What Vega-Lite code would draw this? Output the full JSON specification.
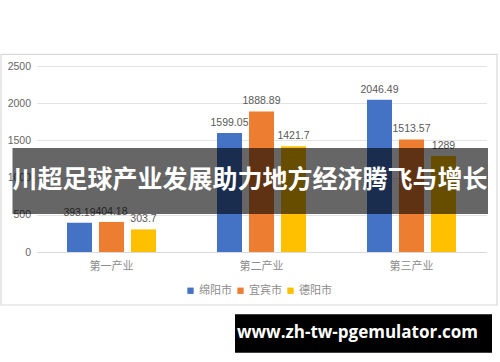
{
  "$schema": "https://vega.github.io/schema/vega-lite/v6.json",
  "autosize": "none",
  "width": 450,
  "height": 186,
  "padding": {"left": 36.5, "top": 66, "right": 13.5, "bottom": 110},
  "background": "white",
  "config": {
    "view": {"stroke": null},
    "font": "Liberation Sans",
    "axisX": {
      "title": null,
      "labelAngle": 0,
      "ticks": false,
      "domainColor": "#d9d9d9",
      "domainWidth": 1.2,
      "labelPadding": 8,
      "labelFont": "Noto Sans CJK SC",
      "labelFontSize": 11,
      "labelColor": "#8c8c8c"
    },
    "axisY": {
      "title": null,
      "format": "d",
      "labelOverlap": false,
      "domain": false,
      "ticks": false,
      "gridColor": "#e3e3e3",
      "gridWidth": 1,
      "labelPadding": 6,
      "labelFontSize": 10.5,
      "labelColor": "#666666"
    }
  },
  "datasets": {
    "gdp": [
      {"industry": "第一产业", "city": "绵阳市", "value": 393.19},
      {"industry": "第一产业", "city": "宜宾市", "value": 404.18},
      {"industry": "第一产业", "city": "德阳市", "value": 303.7},
      {"industry": "第二产业", "city": "绵阳市", "value": 1599.05},
      {"industry": "第二产业", "city": "宜宾市", "value": 1888.89},
      {"industry": "第二产业", "city": "德阳市", "value": 1421.7},
      {"industry": "第三产业", "city": "绵阳市", "value": 2046.49},
      {"industry": "第三产业", "city": "宜宾市", "value": 1513.57},
      {"industry": "第三产业", "city": "德阳市", "value": 1289}
    ]
  },
  "layer": [
    {
      "data": {"values": [{}]},
      "mark": {"type": "rect", "fill": null, "stroke": "#d9d9d9", "strokeWidth": 1.2},
      "encoding": {
        "x": {"value": -35.5},
        "x2": {"value": 460.5},
        "y": {"value": -11.7},
        "y2": {"value": 239}
      }
    },
    {
      "data": {"name": "gdp"},
      "mark": {"type": "bar"},
      "encoding": {
        "x": {
          "field": "industry",
          "type": "nominal",
          "sort": ["第一产业", "第二产业", "第三产业"],
          "scale": {"paddingInner": 0.36, "paddingOuter": 0.18},
          "axis": {"title": null}
        },
        "xOffset": {
          "field": "city",
          "type": "nominal",
          "sort": ["绵阳市", "宜宾市", "德阳市"],
          "scale": {"paddingInner": 0.21875, "paddingOuter": 0.109375}
        },
        "y": {
          "field": "value",
          "type": "quantitative",
          "scale": {"domain": [0, 2500], "nice": false},
          "axis": {"title": null, "values": [0, 500, 1000, 1500, 2000, 2500]}
        },
        "color": {
          "field": "city",
          "type": "nominal",
          "sort": ["绵阳市", "宜宾市", "德阳市"],
          "scale": {"domain": ["绵阳市", "宜宾市", "德阳市"], "range": ["#4472C4", "#ED7D31", "#FFC000"]},
          "legend": {
            "title": null,
            "orient": "none",
            "direction": "horizontal",
            "legendX": 148.5,
            "legendY": 219,
            "symbolType": "square",
            "symbolSize": 40,
            "symbolStrokeWidth": 0,
            "labelFont": "Noto Sans CJK SC",
            "labelFontSize": 11,
            "labelColor": "#8c8c8c",
            "labelOffset": 3,
            "columnPadding": 3
          }
        }
      }
    },
    {
      "data": {"name": "gdp"},
      "mark": {"type": "text", "baseline": "bottom", "dy": -5, "fontSize": 10.5, "color": "#595959"},
      "encoding": {
        "x": {"field": "industry", "type": "nominal", "sort": ["第一产业", "第二产业", "第三产业"], "axis": {"title": null}},
        "xOffset": {"field": "city", "type": "nominal", "sort": ["绵阳市", "宜宾市", "德阳市"]},
        "y": {"field": "value", "type": "quantitative", "axis": {"title": null, "values": [0, 500, 1000, 1500, 2000, 2500]}},
        "text": {"field": "value", "type": "quantitative", "format": ".6~"}
      }
    },
    {
      "data": {"values": [{"banner": "川超足球产业发展助力地方经济腾飞与增长"}]},
      "layer": [
        {
          "mark": {"type": "rect", "fill": "black", "opacity": 0.6},
          "encoding": {
            "x": {"value": -24},
            "x2": {"value": 451.5},
            "y": {"value": 82},
            "y2": {"value": 148}
          }
        },
        {
          "mark": {"type": "text", "font": "Noto Sans CJK SC", "fontWeight": "bold", "fontSize": 25, "color": "white", "align": "center", "baseline": "middle"},
          "encoding": {
            "x": {"value": 213.5},
            "y": {"value": 114},
            "text": {"field": "banner"}
          }
        }
      ]
    },
    {
      "data": {"values": [{"site": "www.zh-tw-pgemulator.com"}]},
      "layer": [
        {
          "mark": {"type": "rect", "fill": "black"},
          "encoding": {
            "x": {"value": 198.5},
            "x2": {"value": 455.5},
            "y": {"value": 248.3},
            "y2": {"value": 286.7}
          }
        },
        {
          "mark": {"type": "text", "font": "Open Sans", "fontWeight": "bold", "fontSize": 17, "color": "white", "align": "center", "baseline": "middle"},
          "encoding": {
            "x": {"value": 321},
            "y": {"value": 267},
            "text": {"field": "site"}
          }
        }
      ]
    }
  ]
}
